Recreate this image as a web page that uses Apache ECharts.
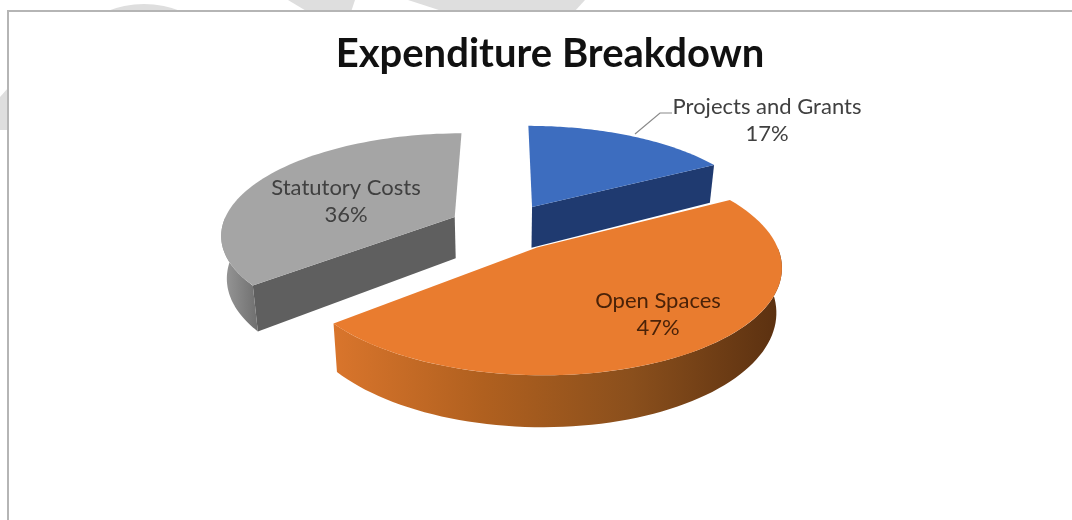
<!DOCTYPE html>
<html><head><meta charset="utf-8">
<style>html,body{margin:0;padding:0;background:#fff}#c{width:1072px;height:520px}</style>
<script src="https://cdn.jsdelivr.net/npm/echarts@6/dist/echarts.min.js"></script>
</head><body><div id="c"></div>
<script>
var categories = ['Projects and Grants', 'Open Spaces', 'Statutory Costs'];
var shares = [17, 47, 36];
var titleText = 'Expenditure Breakdown';

/* camera of the 3-D pie */
var view = {cx: 504.5, cy: 227, rx: 233, ry: 100, persp: 0.16, explode: 0.24, depth: 42, shrink: 0.98};
var looks = [
  {top: '#3d6dbf', cut: '#1f3a70', wall: ['#1f3a70', '#1f3a70'], lx: 767, ly: 120},
  {top: '#e97c2f', cut: '#a85c20', wall: ['#d9752c', '#b0601f', '#8a4f1c', '#5a3010'], lx: 658, ly: 314},
  {top: '#a5a5a5', cut: '#5f5f5f', wall: ['#9a9a9a', '#6f6f6f'], lx: 346, ly: 201}
];
var drawOrder = [2, 0, 1];

var total = shares.reduce(function (a, b) { return a + b; }, 0);
function project(x, v, low) {
  var s = 1 / (1 - view.persp * v);
  return [view.cx + view.rx * x * s * (low ? view.shrink : 1),
          view.cy + view.ry * v * s + (low ? view.depth * s : 0)];
}
function arcPoints(ox, ov, a0, a1, low) {
  var pts = [], n = 72;
  for (var i = 0; i <= n; i++) {
    var a = a0 + (a1 - a0) * i / n;
    pts.push(project(ox + Math.sin(a), ov - Math.cos(a), low));
  }
  return pts;
}
function sliceInfo(i) {
  var before = 0;
  for (var k = 0; k < i; k++) before += shares[k];
  var a0 = before / total * 2 * Math.PI, a1 = (before + shares[i]) / total * 2 * Math.PI, m = (a0 + a1) / 2;
  return {a0: a0, a1: a1, ox: view.explode * Math.sin(m), ov: -view.explode * Math.cos(m)};
}
function renderSlice(params, api) {
  var idx = api.value(0), i = drawOrder[idx], S = sliceInfo(i), L = looks[i], kids = [];
  var apexT = project(S.ox, S.ov, false), apexB = project(S.ox, S.ov, true);
  [[S.a0, -1], [S.a1, 1]].forEach(function (c) {
    var a = c[0];
    /* a cut face shows only when its outward normal points at the viewer */
    if (-Math.cos(a + c[1] * Math.PI / 2) < 0.01) return;
    var rimX = S.ox + Math.sin(a), rimV = S.ov - Math.cos(a);
    kids.push({type: 'polygon', shape: {points: [apexT, project(rimX, rimV, false), project(rimX, rimV, true), apexB]},
      style: {fill: L.cut}, z2: 1});
  });
  /* outer curved wall: only the front half shows */
  var f0 = Math.max(S.a0, Math.PI / 2), f1 = Math.min(S.a1, 3 * Math.PI / 2);
  if (f1 > f0) {
    var up = arcPoints(S.ox, S.ov, f0, f1, false), dn = arcPoints(S.ox, S.ov, f0, f1, true).reverse();
    var stops = L.wall.map(function (c, j) { return {offset: j / (L.wall.length - 1), color: c}; });
    kids.push({type: 'polygon', shape: {points: up.concat(dn)},
      style: {fill: {type: 'linear', x: 0, y: 0, x2: 1, y2: 0, colorStops: stops}}, z2: 2});
  }
  kids.push({type: 'polygon', shape: {points: [apexT].concat(arcPoints(S.ox, S.ov, S.a0, S.a1, false))},
    style: {fill: L.top}, z2: 3});
  return {type: 'group', children: kids};
}
function labelText(i) { return categories[i] + '\n' + Math.round(shares[i] / total * 100) + '%'; }

var chart = echarts.init(document.getElementById('c'), null, {renderer: 'canvas'});
var seriesData = drawOrder.map(function (_, idx) { return [idx]; });
var band = '#dedede';
chart.setOption({
  backgroundColor: '#ffffff',
  animation: false,
  title: {text: titleText, left: 545, top: 29, textAlign: 'center',
    textStyle: {fontFamily: 'Lato', fontSize: 40, fontWeight: 'bold', color: '#111'}},
  graphic: {elements: [
    {type: 'circle', silent: true, shape: {cx: 144, cy: 105, r: 101}, style: {fill: band}, z: 0},
    {type: 'polygon', silent: true, shape: {points: [[288, 0], [355, 0], [351, 12], [308, 12]]}, style: {fill: band}, z: 0},
    {type: 'polygon', silent: true, shape: {points: [[408, 0], [585, 0], [574, 12], [445, 12]]}, style: {fill: band}, z: 0},
    {type: 'polygon', silent: true, shape: {points: [[0, 97], [8, 88], [8, 130], [0, 130]]}, style: {fill: band}, z: 0},
    {type: 'rect', silent: true, shape: {x: 8, y: 11, width: 1100, height: 540}, style: {fill: '#fff', stroke: '#b5b5b5', lineWidth: 2}, z: 1},
    {type: 'polyline', silent: true, shape: {points: [[635, 134], [660, 113], [672, 113]]}, style: {stroke: '#8a8a8a', lineWidth: 1.2, fill: 'none'}, z: 5}
  ].concat(categories.map(function (c, i) {
    return {type: 'text', silent: true, x: looks[i].lx, y: looks[i].ly, z: 6,
      style: {text: labelText(i), align: 'center', verticalAlign: 'middle', fontFamily: 'Lato', fontSize: 22, lineHeight: 27,
        fill: i === 1 ? '#4a2208' : '#404040'}};
  }))},
  series: [{
    type: 'custom', coordinateSystem: 'none', silent: true, z: 3,
    renderItem: renderSlice, data: seriesData
  }]
});
</script></body></html>
